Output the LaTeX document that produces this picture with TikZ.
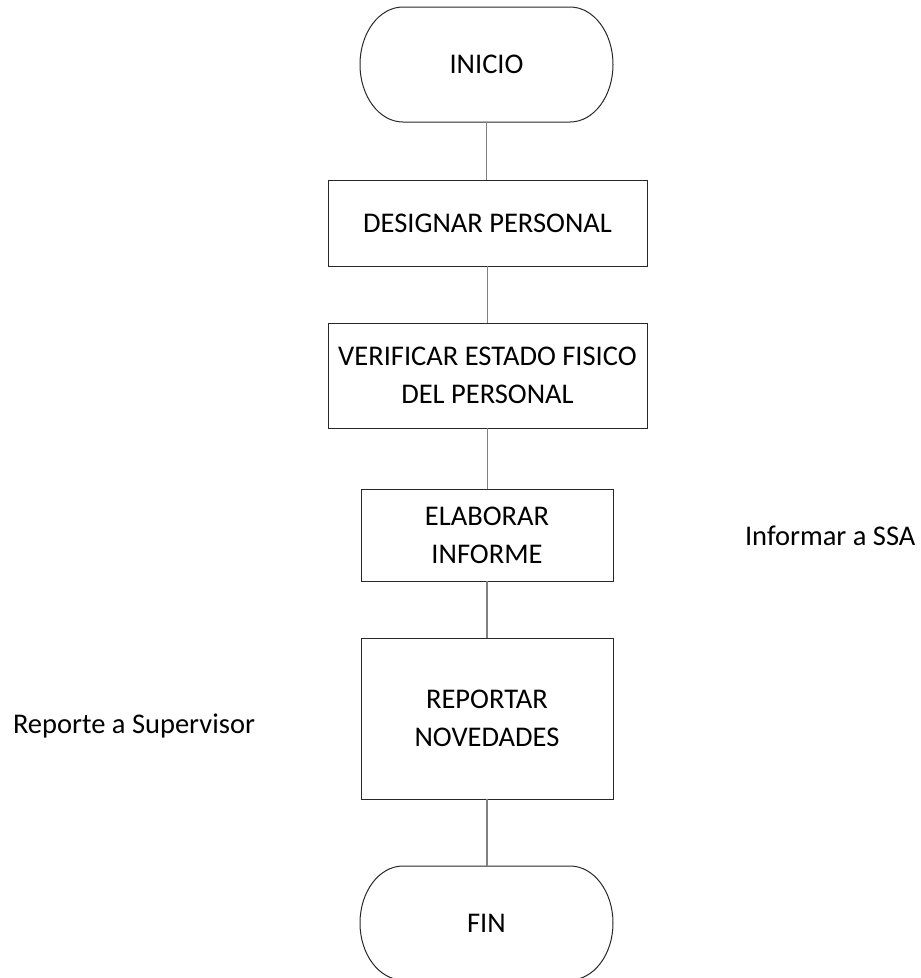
\documentclass[tikz,border=0pt]{standalone}
\usepackage{fontspec}
\setmainfont{Carlito}
\definecolor{linegray}{RGB}{128,128,128}
\definecolor{bordergray}{RGB}{40,40,40}
\begin{document}
\begin{tikzpicture}[x=1pt,y=-1pt,
  every node/.style={inner sep=0pt, outer sep=0pt, font=\fontsize{28.5}{38}\selectfont},
  procbox/.style={draw=bordergray, line width=1pt, align=center},
  termnode/.style={align=center},
  termline/.style={draw=bordergray, line width=1pt},
  conn/.style={draw=linegray, line width=1.3pt},
  sidetext/.style={anchor=base west}]
\fill[white] (0,0) rectangle (921,978);
\useasboundingbox (0,0) rectangle (921,978);

\node[termnode, minimum width=253pt, minimum height=115pt] (ini) at (486.5,64.5) {INICIO};
\node[procbox, minimum width=319pt, minimum height=86pt] (des) at (487.5,223) {DESIGNAR PERSONAL};
\node[procbox, minimum width=319pt, minimum height=105pt] (ver) at (487.5,375.5) {VERIFICAR ESTADO FISICO\\DEL PERSONAL};
\node[procbox, minimum width=252pt, minimum height=92pt] (ela) at (487,535) {ELABORAR\\INFORME};
\node[procbox, minimum width=252pt, minimum height=161pt] (rep) at (487,718.5) {REPORTAR\\NOVEDADES};
\node[termnode, minimum width=253pt, minimum height=114pt] (fin) at (486.5,923) {FIN};

\node[sidetext] (ssa) at (745,545) {Informar a SSA};
\node[sidetext] (sup) at (13,733) {Reporte a Supervisor};

% terminal outlines
\draw[termline] ([xshift=43pt]ini.north west) -- ([xshift=-43pt]ini.north east)
  arc[start angle=90, end angle=-90, x radius=43pt, y radius=57.5pt]
  -- ([xshift=43pt]ini.south west)
  arc[start angle=270, end angle=90, x radius=43pt, y radius=57.5pt] -- cycle;
\draw[termline] ([xshift=43pt]fin.north west) -- ([xshift=-43pt]fin.north east)
  arc[start angle=90, end angle=-90, x radius=43pt, y radius=57pt]
  -- ([xshift=43pt]fin.south west)
  arc[start angle=270, end angle=90, x radius=43pt, y radius=57pt] -- cycle;

% connectors
\draw[conn] (ini.south) -- (ini.south |- des.north);
\draw[conn] (des.south) -- (des.south |- ver.north);
\draw[conn] (ver.south) -- (ver.south |- ela.north);
\draw[conn] (ela.south) -- (ela.south |- rep.north);
\draw[conn] (rep.south) -- (rep.south |- fin.north);
\end{tikzpicture}
\end{document}
